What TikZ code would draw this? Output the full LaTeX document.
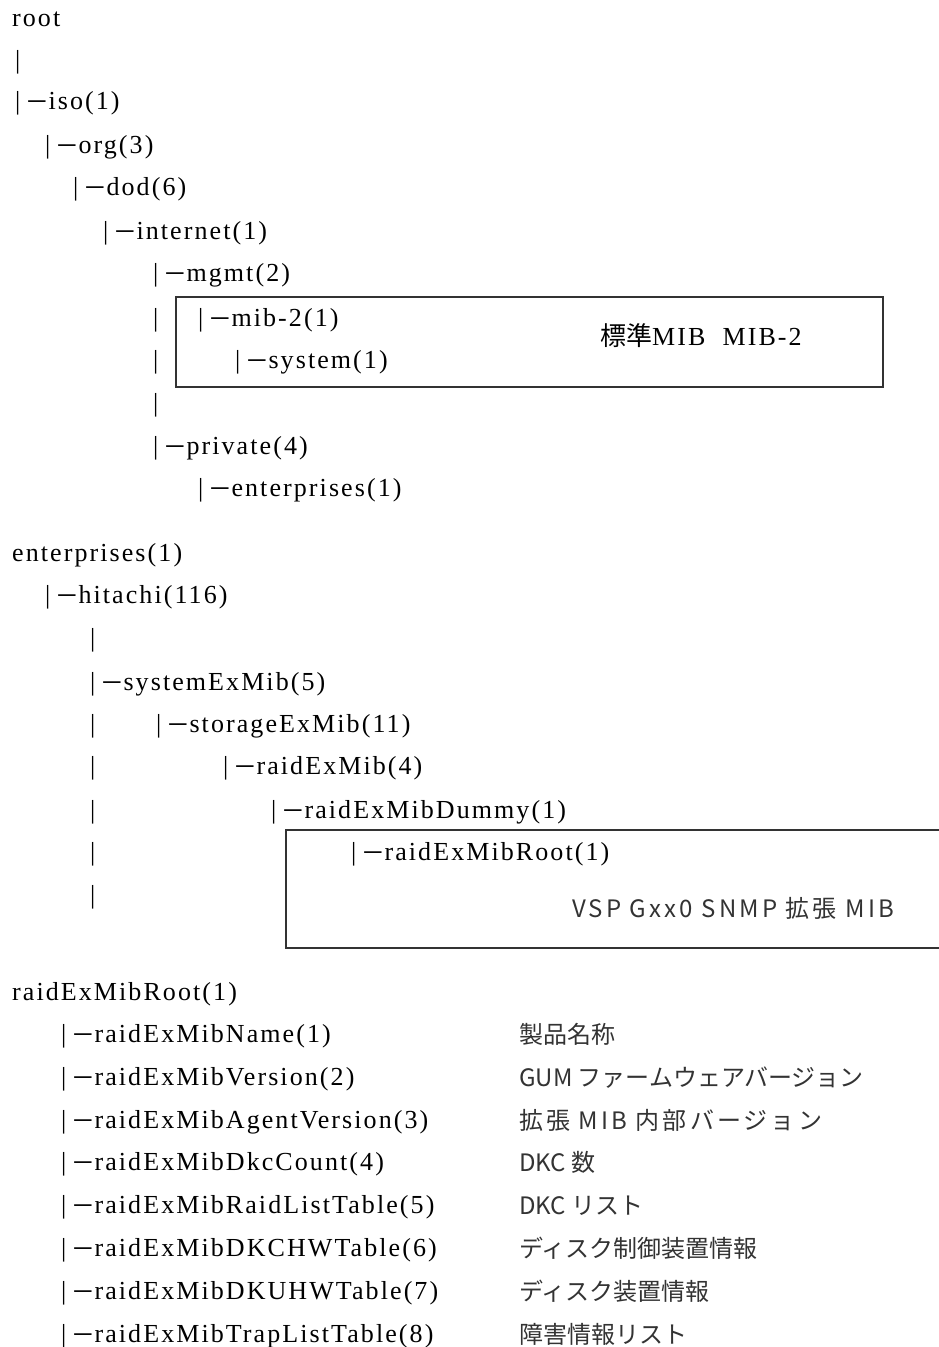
\documentclass[tikz,border=0pt]{standalone}
\usepackage{fontspec}
\usepackage{graphicx}
\setmainfont{Liberation Serif}
\newfontfamily\oidfont{Liberation Serif}[LetterSpace=8]
\newfontfamily\jpfont{Noto Sans CJK JP}
\newfontfamily\jpwidefont{Noto Sans CJK JP}[LetterSpace=13]
\newcommand{\branch}{|\kern8pt\scalebox{0.66}[1.3]{—}\kern3pt}

\begin{document}
\begin{tikzpicture}[x=1pt,y=-1pt,oid node/.style={anchor=base west,inner sep=0pt,font={\oidfont\fontsize{26}{30}\selectfont}},desc node/.style={anchor=base west,inner sep=0pt,text=black!80,font={\jpfont\fontsize{24}{28}\selectfont}},frame/.style={draw=black!80,line width=1.5pt}]
    \useasboundingbox (0,0) rectangle (939,1347);

    % standard tree
    \node[oid node] (root) at (12,26) {root};
    \node[oid node] (b1) at (15,68) {|};
    \node[oid node] (iso) at (15,109) {\branch iso(1)};
    \node[oid node] (org) at (45,153) {\branch org(3)};
    \node[oid node] (dod) at (73,195) {\branch dod(6)};
    \node[oid node] (internet) at (103,239) {\branch internet(1)};
    \node[oid node] (mgmt) at (153,281) {\branch mgmt(2)};
    \node[oid node] (b2) at (153,326) {|};
    \node[oid node] (mib2) at (198,326) {\branch mib-2(1)};
    \node[oid node] (b3) at (153,368) {|};
    \node[oid node] (system) at (235,368) {\branch system(1)};
    \node[oid node] (b4) at (153,411) {|};
    \node[oid node] (private) at (153,454) {\branch private(4)};
    \node[oid node] (ent) at (198,496) {\branch enterprises(1)};
    \draw[frame] (176,297) rectangle (883,387);
    \node[oid node] (stdlabel) at (600,345) {{\jpfont 標準}MIB\ \ MIB-2};

    % hitachi tree
    \node[oid node] (ent2) at (12,561) {enterprises(1)};
    \node[oid node] (hitachi) at (45,603) {\branch hitachi(116)};
    \node[oid node] (b5) at (90,646) {|};
    \node[oid node] (sysex) at (90,690) {\branch systemExMib(5)};
    \node[oid node] (b6) at (90,732) {|};
    \node[oid node] (storex) at (156,732) {\branch storageExMib(11)};
    \node[oid node] (b7) at (90,774) {|};
    \node[oid node] (raidex) at (223,774) {\branch raidExMib(4)};
    \node[oid node] (b8) at (90,818) {|};
    \node[oid node] (dummy) at (271,818) {\branch raidExMibDummy(1)};
    \node[oid node] (b9) at (90,860) {|};
    \node[oid node] (rootex) at (351,860) {\branch raidExMibRoot(1)};
    \node[oid node] (b10) at (90,903) {|};
    \draw[frame] (286,830) rectangle (950,948);
    \node[desc node,font={\jpwidefont\fontsize{24}{28}\selectfont}] (vsplabel) at (572,917) {VSP Gxx0 SNMP 拡張 MIB};

    % raidExMibRoot children
    \node[oid node] (rootex2) at (12,1000) {raidExMibRoot(1)};
    \node[oid node] (name) at (61,1042) {\branch raidExMibName(1)};
    \node[oid node] (version) at (61,1085) {\branch raidExMibVersion(2)};
    \node[oid node] (agent) at (61,1128) {\branch raidExMibAgentVersion(3)};
    \node[oid node] (dkc) at (61,1170) {\branch raidExMibDkcCount(4)};
    \node[oid node] (raidlist) at (61,1213) {\branch raidExMibRaidListTable(5)};
    \node[oid node] (dkchw) at (61,1256) {\branch raidExMibDKCHWTable(6)};
    \node[oid node] (dkuhw) at (61,1299) {\branch raidExMibDKUHWTable(7)};
    \node[oid node] (trap) at (61,1342) {\branch raidExMibTrapListTable(8)};

    \node[desc node] (dname) at (519,1043) {製品名称};
    \node[desc node] (dversion) at (519,1086) {GUM ファームウェアバージョン};
    \node[desc node,font={\jpwidefont\fontsize{24}{28}\selectfont}] (dagent) at (519,1129) {拡張 MIB 内部バージョン};
    \node[desc node] (ddkc) at (519,1171) {DKC 数};
    \node[desc node] (draidlist) at (519,1214) {DKC リスト};
    \node[desc node] (ddkchw) at (519,1257) {ディスク制御装置情報};
    \node[desc node] (ddkuhw) at (519,1300) {ディスク装置情報};
    \node[desc node] (dtrap) at (519,1343) {障害情報リスト};
\end{tikzpicture}
\end{document}
